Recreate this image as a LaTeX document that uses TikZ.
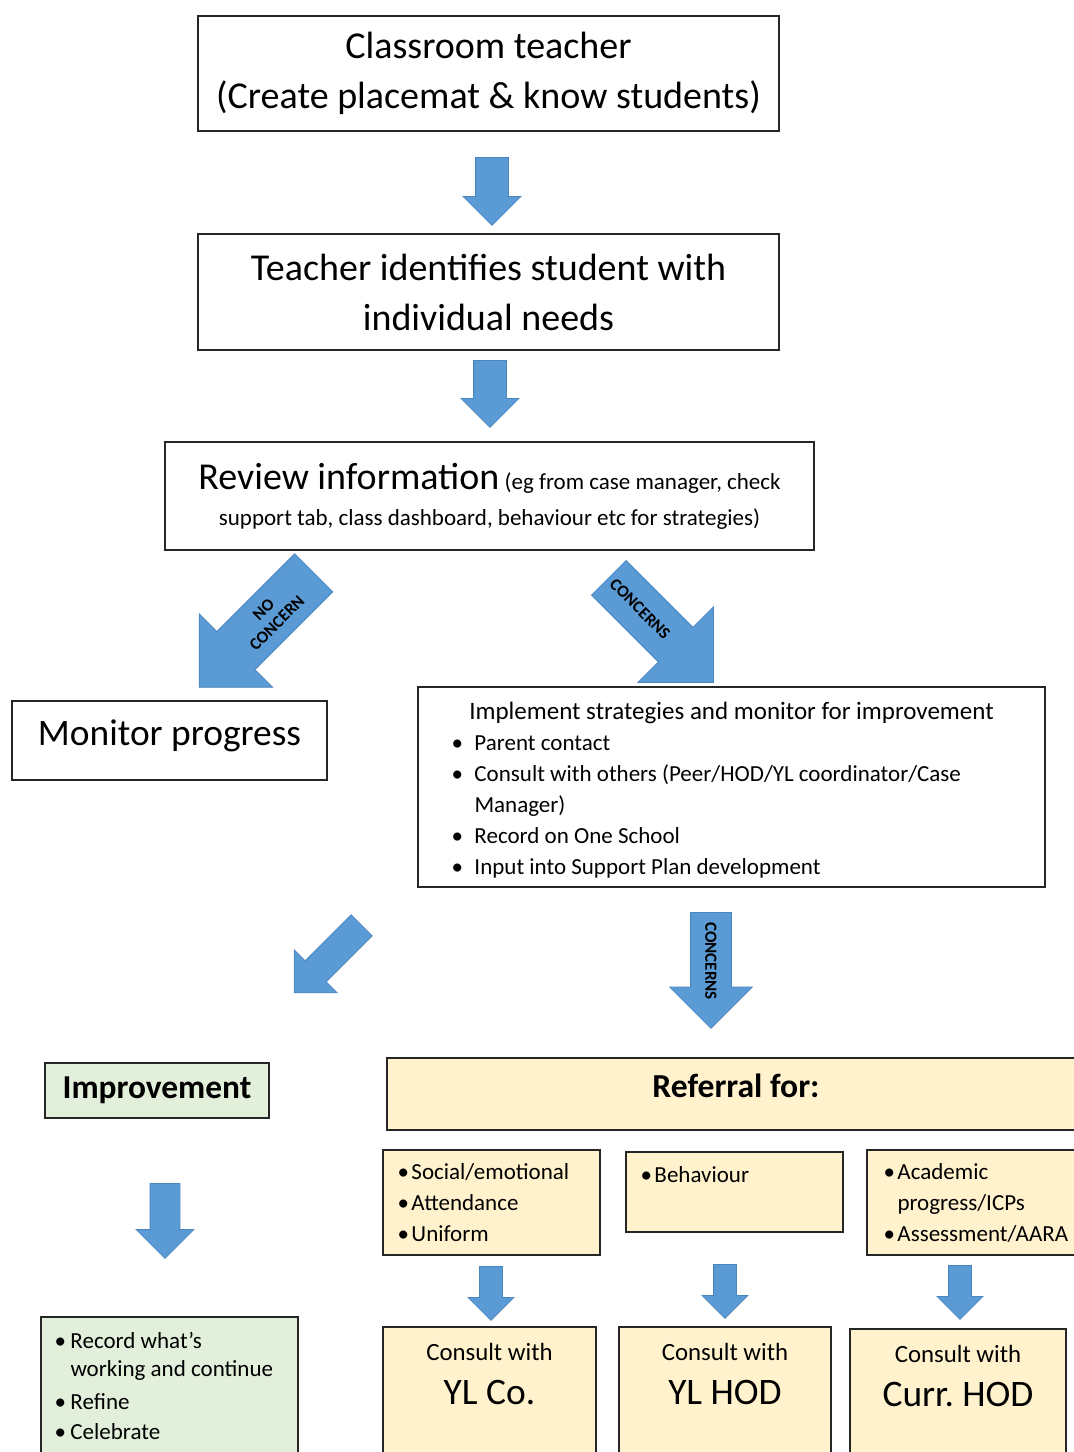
\documentclass[tikz,border=0pt]{standalone}
\usepackage{fontspec}
\setmainfont{Carlito}
\usepackage{tikz}
\usetikzlibrary{shapes.arrows, positioning, calc}
\definecolor{FlowBlue}{HTML}{5B9BD5}
\definecolor{FlowBlueEdge}{HTML}{4A86BE}
\definecolor{FlowGreen}{HTML}{E2EFDA}
\definecolor{FlowCream}{HTML}{FFF2CC}
\newcommand{\fsz}[2]{\fontsize{#1}{#2}\selectfont}
\newcommand{\itm}[1][11.5pt]{\makebox[#1][l]{\textbullet}}

\begin{document}
\begin{tikzpicture}[x=0.5pt, y=-0.5pt, every node/.style={font=\fsz{11.5}{15.5}}]
  \tikzset{
    plainbox/.style={rectangle, draw=black!85, line width=0.9pt, fill=white, align=center},
    greenbox/.style={plainbox, fill=FlowGreen},
    creambox/.style={plainbox, fill=FlowCream},
    txt/.style={inner sep=0pt, align=left},
    bigarrow/.style={single arrow, fill=FlowBlue, draw=FlowBlueEdge, line width=0.4pt, single arrow tip angle=90, inner xsep=0pt, anchor=tail},
    arrowtxt/.style={inner sep=0pt, align=center, font=\bfseries\fsz{8.5}{9.5}}
  }
  \useasboundingbox (0,0) rectangle (1073,1452);

  % main column
  \node[plainbox, minimum width=290.5pt, minimum height=57.5pt, font=\fsz{19}{25}] (teacher) at (488.5,73.5) {Classroom teacher\\(Create placemat \& know students)};
  \node[plainbox, minimum width=290.5pt, minimum height=58pt, font=\fsz{19}{25}] (identify) at (488.5,292) {Teacher identifies student with\\individual needs};
  \node[plainbox, minimum width=324.5pt, minimum height=54pt, font=\fsz{11.5}{18}] (review) at (489.5,496) {{\fsz{19}{18}Review information} (eg from case manager, check\\support tab, class dashboard, behaviour etc for strategies)};

  \node[bigarrow, rotate=-90, minimum height=34pt, minimum width=28.5pt, inner ysep=8pt, single arrow head extend=6.25pt] (down1) at (492,157) {};
  \node[bigarrow, rotate=-90, minimum height=33.5pt, minimum width=28.5pt, inner ysep=8pt, single arrow head extend=6.25pt] (down2) at (490,360) {};

  % split after review
  \node[bigarrow, rotate=225, minimum height=81pt, minimum width=51.5pt, inner ysep=13.25pt, single arrow head extend=12.5pt] (noconcern) at (314,572.5) {};
  \node[arrowtxt, rotate=45] (noconcerntxt) at ($(noconcern.tail)!0.38!(noconcern.tip)$) {NO\\CONCERN};
  \node[bigarrow, rotate=-45, minimum height=74pt, minimum width=53pt, inner ysep=12pt, single arrow head extend=14.5pt] (concern) at (608.5,577.5) {};
  \node[arrowtxt, rotate=-45] (concerntxt) at ($(concern.tail)!0.3!(concern.tip)$) {CONCERNS};

  \node[plainbox, minimum width=157.5pt, minimum height=39.5pt, label={[font=\fsz{18.7}{20}, yshift=2.5pt]center:{Monitor progress}}] (monitor) at (169.5,740.5) {};
  \node[plainbox, minimum width=313.5pt, minimum height=100pt] (implement) at (731.5,787) {};
  \node[txt, font=\fsz{12.5}{15.5}, below=8pt of implement.north] (impltitle) {Implement strategies and monitor for improvement};
  \node[txt, below right=24.5pt and 17pt of implement.north west] (impllist) {\itm Parent contact\\
    \itm Consult with others (Peer/HOD/YL coordinator/Case\\
    \hspace*{11.5pt}Manager)\\
    \itm Record on One School\\
    \itm Input into Support Plan development};

  \node[bigarrow, rotate=225, minimum height=47.75pt, minimum width=30pt, inner ysep=7.25pt, single arrow head extend=7.75pt] (better) at (362,925) {};
  \node[bigarrow, rotate=-90, minimum height=58pt, minimum width=41pt, inner ysep=10pt, single arrow head extend=10.5pt] (concern2) at (711,912) {};
  \node[arrowtxt, rotate=-90] (concern2txt) at ($(concern2.tail)!0.42!(concern2.tip)$) {CONCERNS};

  % improvement branch
  \node[greenbox, minimum width=112pt, minimum height=27.5pt, font=\bfseries\fsz{16.7}{18}] (improve) at (157,1090.5) {Improvement};
  \node[bigarrow, rotate=-90, minimum height=37.5pt, minimum width=28.5pt, inner ysep=7.25pt, single arrow head extend=7pt] (down3) at (165,1183) {};
  \node[greenbox, minimum width=128.5pt, minimum height=76.5pt] (record) at (169.5,1393.5) {};
  \node[txt, font=\fsz{11.5}{14}, below right=8pt and 7pt of record.north west] (recordlist) {\itm[8pt]Record what’s\\
    \hspace*{8pt}working and continue\\[2.5pt]
    \itm[8pt]Refine\\[1pt]
    \itm[8pt]Celebrate};

  % referral branch
  \node[creambox, minimum width=349pt, minimum height=36pt, label={[font=\bfseries\fsz{16.8}{18}, yshift=4pt]center:{Referral for:}}] (referral) at (736,1094) {};

  \node[creambox, minimum width=108.5pt, minimum height=52.5pt] (social) at (491.5,1202.5) {};
  \node[txt, below right=7pt and 7.5pt of social.north west] (sociallist) {\itm[7pt]Social/emotional\\ \itm[7pt]Attendance\\ \itm[7pt]Uniform};
  \node[creambox, minimum width=108.5pt, minimum height=40pt] (behaviour) at (734.5,1192) {};
  \node[txt, below right=7.5pt and 7.5pt of behaviour.north west] (behaviourlist) {\itm[7pt]Behaviour};
  \node[creambox, minimum width=109pt, minimum height=52.5pt] (academic) at (976,1202.5) {};
  \node[txt, below right=7pt and 8.5pt of academic.north west] (academiclist) {\itm[7pt]Academic\\ \hspace*{7pt}progress/ICPs\\ \itm[7pt]Assessment/AARA};

  \node[bigarrow, rotate=-90, minimum height=27pt, minimum width=22.5pt, inner ysep=5.5pt, single arrow head extend=5.75pt] (down4) at (491,1266) {};
  \node[bigarrow, rotate=-90, minimum height=27pt, minimum width=22.5pt, inner ysep=5.5pt, single arrow head extend=5.75pt] (down5) at (725,1264) {};
  \node[bigarrow, rotate=-90, minimum height=27pt, minimum width=22.5pt, inner ysep=5.5pt, single arrow head extend=5.75pt] (down6) at (960,1265) {};

  \node[creambox, minimum width=106.5pt, minimum height=71.5pt] (ylco) at (489.5,1398.5) {};
  \node[txt, align=center, font=\fsz{18.7}{22}, below=8.5pt of ylco.north] (ylcotxt) {{\fsz{12.4}{22}Consult with}\\YL Co.};
  \node[creambox, minimum width=106pt, minimum height=71.5pt] (ylhod) at (725,1398.5) {};
  \node[txt, align=center, font=\fsz{18.7}{22}, below=8.5pt of ylhod.north] (ylhodtxt) {{\fsz{12.4}{22}Consult with}\\YL HOD};
  \node[creambox, minimum width=108pt, minimum height=70.5pt] (currhod) at (958,1399.5) {};
  \node[txt, align=center, font=\fsz{18.7}{22}, below=8.5pt of currhod.north] (currhodtxt) {{\fsz{12.4}{22}Consult with}\\Curr.\ HOD};
\end{tikzpicture}
\end{document}
